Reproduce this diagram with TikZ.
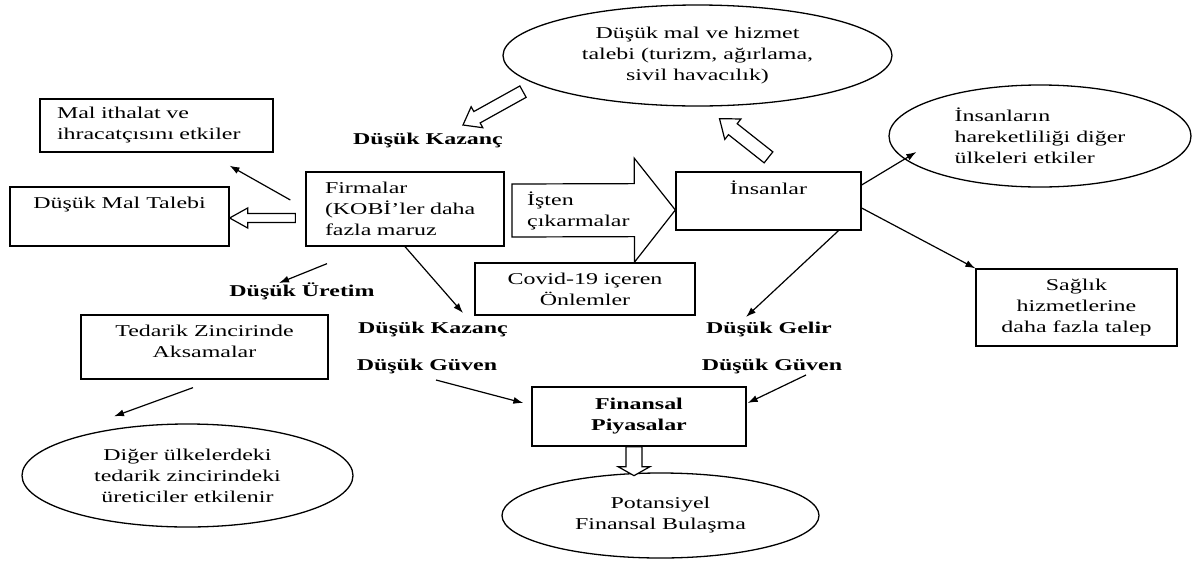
\documentclass[tikz,border=0pt]{standalone}
\usepackage{fontspec}
\setmainfont[FakeStretch=1.45]{Liberation Serif}
\usetikzlibrary{arrows.meta, positioning, shapes.geometric, calc}

\newcommand{\figfont}{\fontsize{16.5}{21}\selectfont}
% hollow block arrow: tail, tip, shaft half width, head half width, head length
\newcommand{\fatarrow}[5]{%
  \coordinate (fb) at ($(#2)!#5!(#1)$);
  \draw[fat] ($(#1)!#3!90:(#2)$) -- ($(fb)!#3!90:(#2)$) -- ($(fb)!#4!90:(#2)$) -- (#2)
    -- ($(fb)!#4!-90:(#2)$) -- ($(fb)!#3!-90:(#2)$) -- ($(#1)!#3!-90:(#2)$) -- cycle;}

\begin{document}
\begin{tikzpicture}[x=1pt, y=1pt, >=Latex,
    box/.style={draw, line width=1.3pt, inner sep=0pt, align=center, font=\figfont},
    oval/.style={draw, ellipse, line width=1.3pt, inner sep=0pt, align=center, font=\figfont},
    lbl/.style={inner sep=0pt, font=\figfont\bfseries},
    arr/.style={-{Latex[length=10pt, width=7pt]}, line width=1.2pt},
    fat/.style={draw, fill=white, line width=1.2pt}]
\useasboundingbox (0,0) rectangle (1192,-563);

% Nodes
\node[oval, minimum width=389, minimum height=101] (demand) at (697.5,-55.5)
  {Düşük mal ve hizmet\\talebi (turizm, ağırlama,\\sivil havacılık)};
\node[box, minimum width=233, minimum height=53, text width=199, align=left] (ithalat) at (156.5,-125.5)
  {Mal ithalat ve\\ihracatçısını etkiler};
\node[box, minimum width=219, minimum height=59] (maltalep) at (119.5,-216.5)
  {Düşük Mal Talebi\\[6pt]\mbox{}};
\node[box, minimum width=198, minimum height=74, text width=160, align=left] (firma) at (405,-209)
  {Firmalar\\(KOBİ’ler daha\\fazla maruz};
\node[box, minimum width=247, minimum height=64] (tedarik) at (204.5,-347)
  {Tedarik Zincirinde\\Aksamalar\\[-10pt]\mbox{}};
\node[oval, minimum width=331, minimum height=103] (diger) at (187.5,-475.5)
  {Diğer ülkelerdeki\\tedarik zincirindeki\\üreticiler etkilenir};
\node[box, minimum width=220, minimum height=52] (covid) at (585,-289)
  {Covid-19 içeren\\Önlemler};
\node[box, minimum width=185, minimum height=58] (insan) at (768.5,-201)
  {İnsanlar\\[6pt]\mbox{}};
\node[oval, minimum width=302, minimum height=102, align=left] (hareket) at (1040,-136)
  {İnsanların\\hareketliliği diğer\\ülkeleri etkiler};
\node[box, minimum width=201, minimum height=77] (saglik) at (1076.5,-307.5)
  {Sağlık\\hizmetlerine\\daha fazla talep};
\node[box, minimum width=214, minimum height=59, font=\figfont\bfseries] (fin) at (639,-416.5)
  {Finansal\\Piyasalar};
\node[oval, minimum width=317, minimum height=85] (bulasma) at (660.5,-515.5)
  {Potansiyel\\Finansal Bulaşma};

% Labels
\node[lbl] (kazanc1) at (428,-140) {Düşük Kazanç};
\node[lbl] (uretim) at (302,-291) {Düşük Üretim};
\node[lbl] (kazanc2) at (433,-329) {Düşük Kazanç};
\node[lbl] (guven1) at (427,-366) {Düşük Güven};
\node[lbl] (gelir) at (769,-329) {Düşük Gelir};
\node[lbl] (guven2) at (772,-366) {Düşük Güven};

% Hollow arrows
\coordinate (ist-tail) at (512,-210.5);
\coordinate (ist-tip) at ([yshift=-9pt]insan.west);
\fatarrow{ist-tail}{ist-tip}{26.5pt}{52pt}{41pt}
\node[font=\figfont, align=left, anchor=west, inner sep=0pt] (isten) at (527,-211)
  {İşten\\çıkarmalar};

\coordinate (kz-tail) at ([xshift=-174.5pt, yshift=15pt]demand.south);
\coordinate (kz-tip) at ([xshift=35pt, yshift=15pt]kazanc1.center);
\fatarrow{kz-tail}{kz-tip}{6.5pt}{12pt}{16pt}

\coordinate (up-tail) at ([yshift=14pt]insan.north);
\coordinate (up-tip) at ([xshift=22pt, yshift=-12pt]demand.south);
\fatarrow{up-tail}{up-tip}{7pt}{13pt}{17pt}

\coordinate (mt-tail) at ([xshift=-10pt, yshift=-9pt]firma.west);
\coordinate (mt-tip) at ([yshift=-1.5pt]maltalep.east);
\fatarrow{mt-tail}{mt-tip}{4.5pt}{10pt}{18pt}

\coordinate (fb-tail) at ([xshift=-5pt]fin.south);
\coordinate (fb-tip) at ([xshift=-5pt, yshift=-29pt]fin.south);
\fatarrow{fb-tail}{fb-tip}{8pt}{16pt}{9pt}

% Connections
\draw[arr] ([xshift=-15pt, yshift=9pt]firma.west) -- ([xshift=73pt, yshift=-13pt]ithalat.south);
\draw[arr] ([xshift=-78pt, yshift=-17pt]firma.south) -- ([xshift=-23pt, yshift=8pt]uretim.center);
\draw[arr] (firma.south) -- ([xshift=30pt, yshift=16pt]kazanc2.center);
\draw[arr] ([xshift=9pt, yshift=-14pt]guven1.center) -- ([xshift=-8pt, yshift=13.5pt]fin.west);
\draw[arr] ([xshift=34pt, yshift=-9pt]guven2.center) -- ([xshift=1pt, yshift=13.5pt]fin.east);
\draw[arr] ([xshift=70pt]insan.south) -- ([xshift=-23pt, yshift=12pt]gelir.center);
\draw[arr] ([yshift=16pt]insan.east) -- ([xshift=28pt, yshift=-16pt]hareket.west);
\draw[arr] ([yshift=-7pt]insan.east) -- (saglik.north west);
\draw[arr] ([xshift=-11.5pt, yshift=-8pt]tedarik.south) -- ([xshift=-73.5pt, yshift=7pt]diger.north);

\end{tikzpicture}
\end{document}
